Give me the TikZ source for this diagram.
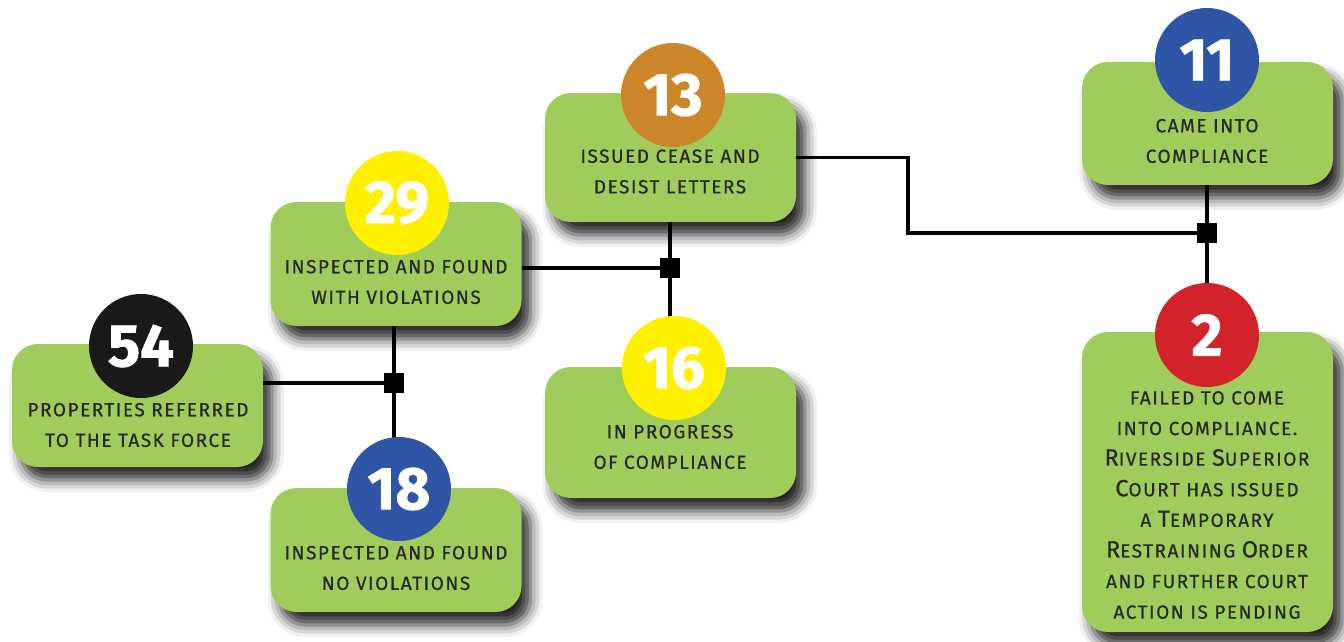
\documentclass[tikz,border=0pt]{standalone}
\usepackage{fontspec}
\setmainfont{Fira Sans}
\newfontfamily\lblfont{Fira Sans}[LetterSpace=8, FakeBold=0.6]
\newfontfamily\numfont{Fira Sans}[FakeBold=1.4]
\usetikzlibrary{shadows.blur}
\definecolor{boxgreen}{RGB}{160,204,92}
\definecolor{textgray}{RGB}{40,40,40}
\definecolor{numblack}{RGB}{26,24,24}
\definecolor{numyellow}{RGB}{255,240,0}
\definecolor{numblue}{RGB}{47,86,166}
\definecolor{numorange}{RGB}{206,134,42}
\definecolor{numred}{RGB}{210,34,42}
\newcommand\Cp[1]{{\fontsize{23.5}{30}\selectfont #1}}
\tikzset{
  greenbox/.style={rectangle, rounded corners=26pt, fill=boxgreen, inner sep=0,
    minimum width=251pt,
    blur shadow={shadow xshift=9pt, shadow yshift=-13pt, shadow blur radius=12pt, shadow opacity=85}},
  numdisc/.style={circle, minimum size=104pt, inner sep=0, text=white,
    font=\numfont\fontsize{60}{60}\selectfont\bfseries},
  lbl/.style={align=center, text=textgray, inner sep=0,
    font=\lblfont\fontsize{19}{30.6}\selectfont},
  link/.style={line width=3.5pt, black},
  junc/.style={rectangle, fill=black, minimum size=20pt, inner sep=0}
}
\begin{document}
\begin{tikzpicture}[x=1pt,y=-1pt]
\useasboundingbox (0,0) rectangle (1344,641);
% boxes
\node[greenbox, minimum height=123pt] (b54) at (137.5,405.5) {};
\node[greenbox, minimum height=124pt] (b29) at (396,264) {};
\node[greenbox, minimum height=124pt] (b18) at (396,550) {};
\node[greenbox, minimum height=129pt] (b13) at (670.5,157.5) {};
\node[greenbox, minimum height=131pt] (b16) at (670.5,432.5) {};
\node[greenbox, minimum height=123pt] (b11) at (1207.5,123.5) {};
\node[greenbox, minimum height=300pt] (b2) at (1207.5,482) {};
% junction positions
\coordinate (j1) at (394,383);
\coordinate (j2) at (670,268);
\coordinate (j3) at (1207,233);
\coordinate (k1) at (908,157.5);
\coordinate (k2) at (908,233);
% circle positions
\coordinate (p54) at (141,346);
\coordinate (p29) at (397,203);
\coordinate (p18) at (399,489);
\coordinate (p13) at (673,95);
\coordinate (p16) at (674,368);
\coordinate (p11) at (1207,60);
\coordinate (p2) at (1207,335);
% connectors
\draw[link] (b54.east |- j1) -- (j1);
\draw[link] (b29.south -| j1) -- (j1) -- (p18 -| j1);
\draw[link] (b29.east |- j2) -- (j2);
\draw[link] (b13.south -| j2) -- (j2) -- (p16 -| j2);
\draw[link] (b13.east) -- (k1) -- (k2) -- (j3);
\draw[link] (b11.south -| j3) -- (j3) -- (p2 -| j3);
\node[junc] (q1) at (j1) {};
\node[junc] (q2) at (j2) {};
\node[junc] (q3) at (j3) {};
% circles
\node[numdisc, fill=numblack] (c54) at (p54) {54};
\node[numdisc, fill=numyellow] (c29) at (p29) {29};
\node[numdisc, fill=numblue] (c18) at (p18) {18};
\node[numdisc, fill=numorange] (c13) at (p13) {13};
\node[numdisc, fill=numyellow] (c16) at (p16) {16};
\node[numdisc, fill=numblue] (c11) at (p11) {11};
\node[numdisc, fill=numred] (c2) at (p2) {2};
% labels
\node[lbl] (t54) at (138,425) {PROPERTIES REFERRED\\TO THE TASK FORCE};
\node[lbl] (t29) at (396,282) {INSPECTED AND FOUND\\WITH VIOLATIONS};
\node[lbl] (t18) at (396,568) {INSPECTED AND FOUND\\NO VIOLATIONS};
\node[lbl] (t13) at (670,171.5) {ISSUED CEASE AND\\DESIST LETTERS};
\node[lbl] (t16) at (670,447) {IN PROGRESS\\OF COMPLIANCE};
\node[lbl] (t11) at (1207,141) {CAME INTO\\COMPLIANCE};
\node[lbl] (t2) at (1207,505) {FAILED TO COME\\INTO COMPLIANCE.\\\Cp{R}IVERSIDE \Cp{S}UPERIOR\\\Cp{C}OURT HAS ISSUED\\A \Cp{T}EMPORARY\\\Cp{R}ESTRAINING \Cp{O}RDER\\AND FURTHER COURT\\ACTION IS PENDING};
\end{tikzpicture}
\end{document}
